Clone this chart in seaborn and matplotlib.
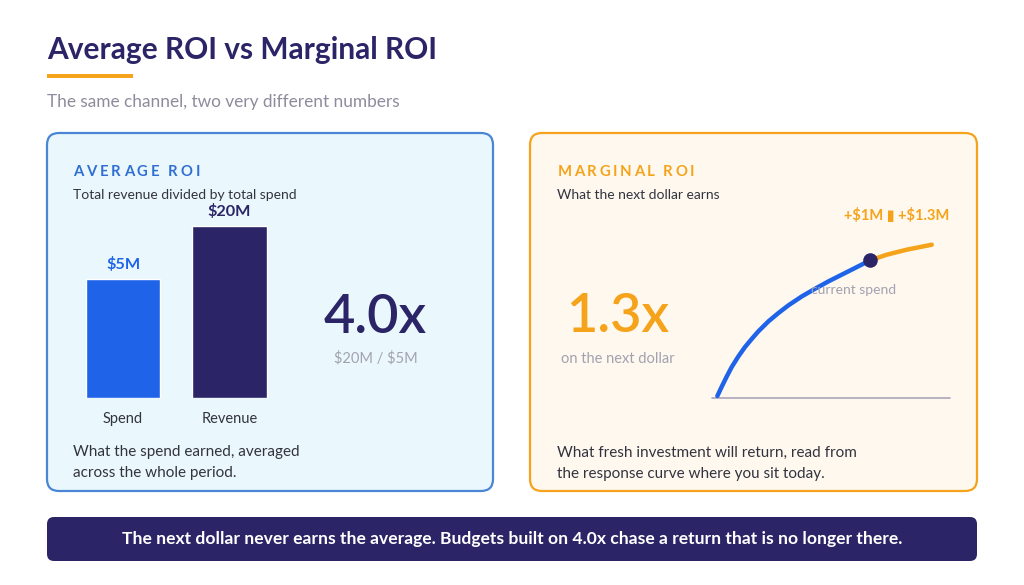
import matplotlib
matplotlib.use("Agg")
import matplotlib.pyplot as plt
from matplotlib.patches import FancyBboxPatch, Rectangle
import seaborn as sns
import pandas as pd

# ============================================
# DATA
# ============================================
bar_labels = ["Spend", "Revenue"]
bar_values = [5, 20]                 # $M
bar_texts = ["$5M", "$20M"]

avg_roi_text = "4.0x"
avg_formula_text = "$20M / $5M"
marginal_roi_text = "1.3x"
step_text = "+$1M ▮ +$1.3M"

# response curve, read point by point (spend index, response index)
curve_spend = [0, 2.1, 4.4, 6.7, 9.8, 12.9, 16.0, 19.1, 23.8, 28.5, 33.1, 39.4,
               45.6, 51.8, 58.0, 64.2, 71.2, 79.0, 88.3, 100]
curve_resp = [2, 11.6, 21.6, 31, 41.6, 51, 59, 66.6, 76.6, 85, 92.6, 101.6,
              109.3, 116.6, 123.3, 130, 137.6, 143.3, 148.3, 153.3]
current_idx = 16                     # the "current spend" point

# ============================================
# STYLE
# ============================================
NAVY = "#2b2467"
BLUE = "#1f63e9"
HEAD_BLUE = "#2f6fd3"
ORANGE = "#f5a31a"
DARK = "#33333f"
GRAY = "#8e8c9c"
LIGHT_GRAY = "#a3a1b0"
BAR_BASE = 28.6     # bars in the picture keep a minimum visible height

sns.set_theme(style="white")
plt.rcParams["font.family"] = ["Lato", "DejaVu Sans"]
plt.rcParams["text.parse_math"] = False

W, H = 1024, 585
fig = plt.figure(figsize=(W / 100, H / 100), dpi=100)
fig.patch.set_facecolor("white")

# background axes in pixel units (y down)
bg = fig.add_axes([0, 0, 1, 1])
bg.set_xlim(0, W)
bg.set_ylim(H, 0)
bg.axis("off")
renderer = fig.canvas.get_renderer()


def px_axes(x0, y0, x1, y1):
    ax = fig.add_axes([x0 / W, 1 - y1 / H, (x1 - x0) / W, (y1 - y0) / H])
    ax.set_facecolor("none")
    return ax


def spaced(x, y, s, gap, space_w, **kw):
    # letter-spaced heading
    for ch in s:
        if ch == " ":
            x += space_w
            continue
        t = bg.text(x, y, ch, va="baseline", ha="left", **kw)
        x += t.get_window_extent(renderer).width + gap


# --- header ---
bg.text(47, 59, "Average ROI vs Marginal ROI", fontsize=21.5, fontweight="bold",
        color=NAVY, va="baseline")
bg.add_patch(Rectangle((47, 73.5), 86, 4, color=ORANGE, lw=0))
bg.text(47, 106.7, "The same channel, two very different numbers", fontsize=12.4,
        color=GRAY, va="baseline")

# --- panels ---
bg.add_patch(FancyBboxPatch((47, 133), 446, 358, boxstyle="round,pad=0,rounding_size=12",
                            fc="#eaf8fd", ec="#4a85d6", lw=1.6))
bg.add_patch(FancyBboxPatch((530, 133), 447, 358, boxstyle="round,pad=0,rounding_size=12",
                            fc="#fef8ef", ec=ORANGE, lw=1.6))

# left panel text
spaced(73, 175.7, "AVERAGE ROI", 2.9, 6, fontsize=10.7, fontweight="bold", color=HEAD_BLUE)
bg.text(73, 199.3, "Total revenue divided by total spend", fontsize=10, color=DARK, va="baseline")
bg.text(375, 333.3, avg_roi_text, fontsize=39, fontweight=600, color=NAVY,
        ha="center", va="baseline")
bg.text(376, 362.7, avg_formula_text, fontsize=10.5, color=LIGHT_GRAY, ha="center", va="baseline")
bg.text(73, 456, "What the spend earned, averaged", fontsize=11, color=DARK, va="baseline")
bg.text(73, 477.3, "across the whole period.", fontsize=11, color=DARK, va="baseline")

# right panel text
spaced(557.3, 175.7, "MARGINAL ROI", 2.6, 6, fontsize=10.7, fontweight="bold", color=ORANGE)
bg.text(557, 199.3, "What the next dollar earns", fontsize=10, color=DARK, va="baseline")
bg.text(617.5, 332.3, marginal_roi_text, fontsize=39, fontweight=600, color=ORANGE,
        ha="center", va="baseline")
bg.text(618, 362.7, "on the next dollar", fontsize=10.5, color=LIGHT_GRAY, ha="center", va="baseline")
bg.text(557, 456.7, "What fresh investment will return, read from", fontsize=11, color=DARK,
        va="baseline")
bg.text(557, 477.7, "the response curve where you sit today.", fontsize=11, color=DARK,
        va="baseline")

# --- banner ---
bg.add_patch(FancyBboxPatch((47, 517), 930, 44, boxstyle="round,pad=0,rounding_size=7",
                            fc=NAVY, ec="none"))
bg.text(512, 539, "The next dollar never earns the average. Budgets built on 4.0x chase a "
        "return that is no longer there.", fontsize=12.6, fontweight="bold",
        color="white", ha="center", va="center")

# ============================================
# BAR CHART (average ROI)
# ============================================
ax1 = px_axes(69.75, 198, 282.75, 398)
df_bars = pd.DataFrame({"item": bar_labels, "value": bar_values})
df_bars["shown"] = df_bars["value"] + BAR_BASE
sns.barplot(data=df_bars, x="item", y="shown", hue="item", palette=[BLUE, NAVY],
            width=0.695, saturation=1, legend=False, ax=ax1)
ax1.set_xlim(-0.5, 1.5)
ax1.set_ylim(0, 200 / 3.53)
ax1.set_xlabel("")
ax1.set_ylabel("")
ax1.set_xticks([])
ax1.set_yticks([])
sns.despine(ax=ax1, left=True, bottom=True)
for i, (lab, txt, val) in enumerate(zip(bar_labels, bar_texts, df_bars["shown"])):
    ax1.annotate(txt, (i, val), xytext=(0, 7.5), textcoords="offset points",
                 ha="center", va="baseline", fontsize=11.7, fontweight="bold",
                 color=[BLUE, NAVY][i])
    ax1.annotate(lab, (i, 0), xytext=(0, -18.2), textcoords="offset points",
                 ha="center", va="baseline", fontsize=10.5, color=DARK,
                 annotation_clip=False)

# ============================================
# RESPONSE CURVE (marginal ROI)
# ============================================
ax2 = px_axes(712, 198, 950, 398)
sns.lineplot(x=curve_spend[:current_idx + 1], y=curve_resp[:current_idx + 1],
             color=BLUE, lw=3.2, estimator=None, solid_capstyle="round", ax=ax2)
sns.lineplot(x=curve_spend[current_idx:], y=curve_resp[current_idx:],
             color=ORANGE, lw=3.2, estimator=None, solid_capstyle="round", ax=ax2)
ax2.set_xlim(-2.5, 108.5)
ax2.set_ylim(0, 200)
ax2.plot([-2.5, 108.5], [0, 0], color="#aaa6b8", lw=1.2, clip_on=False, zorder=1)
cx, cy = curve_spend[current_idx], curve_resp[current_idx]
ax2.scatter([cx], [cy], s=110, color=NAVY, zorder=5, linewidths=0)
ax2.annotate("current spend", (cx, cy), xytext=(-11.7, -24.5), textcoords="offset points",
             ha="center", va="baseline", fontsize=10, color=LIGHT_GRAY)
ax2.annotate(step_text, (cx, cy), xytext=(19.2, 28.8), textcoords="offset points",
             ha="center", va="baseline", fontsize=10.5, fontweight="bold", color=ORANGE,
             annotation_clip=False)
ax2.set_xticks([])
ax2.set_yticks([])
ax2.set_xlabel("")
ax2.set_ylabel("")
sns.despine(ax=ax2, left=True, bottom=True)

fig.savefig("out.png", dpi=100, facecolor="white")
